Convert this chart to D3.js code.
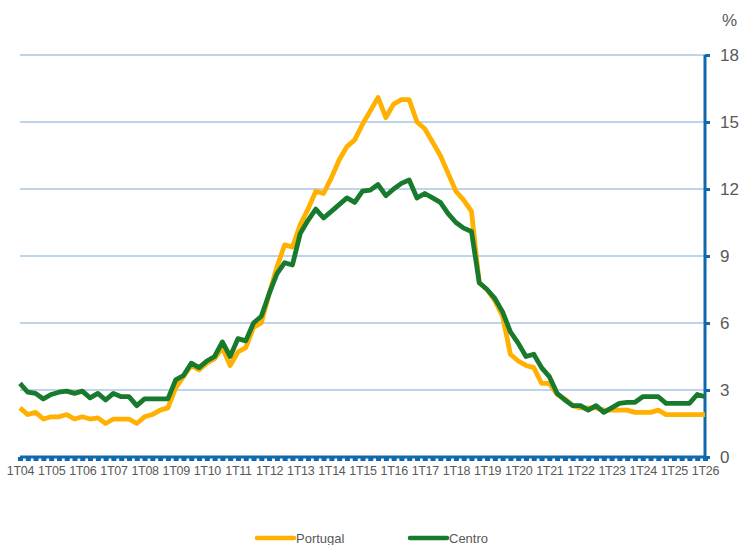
<!DOCTYPE html>
<html>
<head>
<meta charset="utf-8">
<script src="https://cdn.jsdelivr.net/npm/d3@7"></script>
<style>
  body { margin: 0; background: #fff; }
  text { font-family: "Liberation Sans", Arial, sans-serif; fill: #595959; }
</style>
</head>
<body>
<div id="chart"></div>
<script>
// quarters 1T04 .. 1T26
let years = d3.range(4, 27)
let quarters = []
years.forEach(y => {
  let yy = (y < 10 ? '0' : '') + y
  for (let q = 1; q <= 4; q++) {
    if (y == 26 && q > 1) break
    quarters.push(q + 'T' + yy)
  }
})

let portugal = [
  2.2, 1.9, 2.0, 1.7, 1.8, 1.8, 1.9, 1.7, 1.8, 1.7, 1.75, 1.5, 1.7, 1.7, 1.7, 1.5, 1.8, 1.9, 2.1, 2.2,
  3.1, 3.6, 4.1, 3.9, 4.2, 4.4, 4.9, 4.1, 4.7, 4.9, 5.8, 6.0, 7.3, 8.5, 9.5, 9.4, 10.4, 11.1, 11.9, 11.8,
  12.5, 13.3, 13.9, 14.2, 14.9, 15.5, 16.1, 15.2, 15.8, 16.0, 16.0, 15.0, 14.7, 14.1, 13.5, 12.7, 11.9, 11.5, 11.0,
  7.8, 7.5, 7.0, 6.3, 4.6, 4.3, 4.1, 4.0, 3.3, 3.3, 2.8, 2.6, 2.3, 2.2, 2.2, 2.2, 2.1, 2.1, 2.1, 2.1,
  2.0, 2.0, 2.0, 2.1, 1.9, 1.9, 1.9, 1.9, 1.9, 1.9
]

let centro = [
  3.3, 2.9, 2.85, 2.6, 2.8, 2.9, 2.95, 2.85, 2.95, 2.65, 2.85, 2.55, 2.85, 2.7, 2.7, 2.3, 2.6, 2.6, 2.6, 2.6,
  3.45, 3.65, 4.2, 4.0, 4.3, 4.5, 5.15, 4.5, 5.3, 5.2, 6.0, 6.3, 7.3, 8.2, 8.7, 8.6, 10.0, 10.6, 11.1, 10.7,
  11.0, 11.3, 11.6, 11.4, 11.9, 11.95, 12.2, 11.7, 12.0, 12.25, 12.4, 11.6, 11.8, 11.6, 11.4, 10.9, 10.5, 10.25, 10.1,
  7.8, 7.5, 7.1, 6.5, 5.6, 5.1, 4.5, 4.6, 4.0, 3.6, 2.85, 2.55, 2.3, 2.3, 2.1, 2.3, 2.0, 2.2, 2.4, 2.45,
  2.45, 2.7, 2.7, 2.7, 2.4, 2.4, 2.4, 2.4, 2.8, 2.7
]

let yTicks = [0, 3, 6, 9, 12, 15, 18]
let seriesNames = ['Portugal', 'Centro']
let seriesColors = ['#FFB000', '#187A2C']

let width = 745, height = 545
let margin = {top: 55, left: 20, right: 40, bottom: 88}

let svg = d3.select('#chart').append('svg')
    .attr('width', width)
    .attr('height', height)

let x = d3.scalePoint().domain(quarters).range([margin.left, width - margin.right])
let y = d3.scaleLinear().domain([0, 18]).range([height - margin.bottom, margin.top])

// gridlines
svg.append('g')
  .selectAll('line')
  .data(yTicks.filter(d => d > 0))
  .enter().append('line')
    .attr('x1', margin.left)
    .attr('x2', width - margin.right)
    .attr('y1', d => y(d))
    .attr('y2', d => y(d))
    .attr('stroke', '#A9C6E4')
    .attr('stroke-width', 1.5)

let axisColor = '#0F69AC'

// x axis
let xAxis = svg.append('g')
    .attr('transform', 'translate(0,' + y(0) + ')')
    .call(d3.axisBottom(x).tickSize(4).tickFormat(d => d.startsWith('1T') ? d : ''))
xAxis.select('.domain').attr('stroke', axisColor).attr('stroke-width', 3)
  .attr('d', 'M' + margin.left + ',0H' + (width - margin.right))
xAxis.selectAll('.tick line').attr('stroke', axisColor).attr('stroke-width', 5)
xAxis.selectAll('.tick text')
    .attr('y', 9)
    .style('font-size', '12.5px')
    .style('letter-spacing', '-0.3px')
    .style('fill', '#595959')

// y axis on right
let yAxis = svg.append('g')
    .attr('transform', 'translate(' + (width - margin.right) + ',0)')
    .call(d3.axisRight(y).tickValues(yTicks).tickSize(5))
yAxis.select('.domain').attr('stroke', axisColor).attr('stroke-width', 3)
  .attr('d', 'M0,' + y(18) + 'V' + y(0))
yAxis.selectAll('.tick line').attr('stroke', axisColor).attr('stroke-width', 3)
yAxis.selectAll('.tick text')
    .attr('x', 15)
    .style('font-size', '17px')
    .style('fill', '#595959')

svg.append('text')
    .attr('x', 722)
    .attr('y', 26)
    .style('font-size', '17px')
    .text('%')

// lines
let line = d3.line()
    .x((d, i) => x(quarters[i]))
    .y(d => y(d))

;[portugal, centro].forEach((s, k) => {
  svg.append('path')
    .datum(s)
    .attr('fill', 'none')
    .attr('stroke', seriesColors[k])
    .attr('stroke-width', 4.8)
    .attr('stroke-linejoin', 'round')
    .attr('d', line)
})

// legend
let legendX = [257, 410]
seriesNames.forEach((n, k) => {
  let g = svg.append('g').attr('transform', 'translate(' + legendX[k] + ',538)')
  g.append('line')
    .attr('x1', 0).attr('x2', 37)
    .attr('stroke', seriesColors[k])
    .attr('stroke-width', 4.5)
    .attr('stroke-linecap', 'round')
  g.append('text')
    .attr('x', 39)
    .attr('y', 5)
    .style('font-size', '13px')
    .text(n)
})
</script>
</body>
</html>
